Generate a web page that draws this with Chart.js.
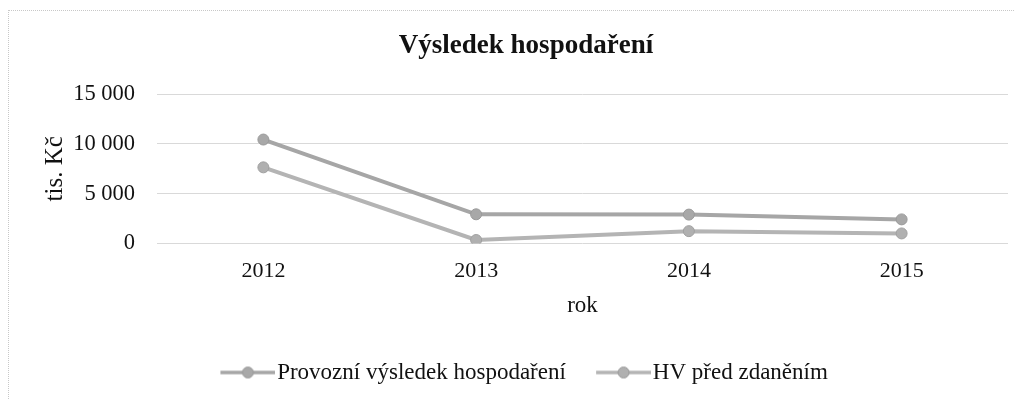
<!DOCTYPE html>
<html>
<head>
<meta charset="utf-8">
<script src="https://cdn.jsdelivr.net/npm/chart.js@4"></script>
<style>
  html, body { margin: 0; padding: 0; background: #fff; }
  #wrap { position: relative; width: 1033px; height: 400px; }
  #frame { position: absolute; left: 8px; top: 10px; width: 1005px; height: 400px;
           border-left: 1px dotted #c8c8c8; border-top: 1px dotted #c8c8c8; }
  canvas { position: absolute; left: 0; top: 0; }
</style>
</head>
<body>
<div id="wrap">
  <div id="frame"></div>
  <canvas id="c" width="1033" height="400"></canvas>
</div>
<script>
const categories = ['2012', '2013', '2014', '2015'];
const provozniVH = [10430, 2930, 2900, 2420];
const hvPredZdanenim = [7640, 350, 1240, 1010];
const yTicks = [0, 5000, 10000, 15000];
const seriesNames = ['Provozní výsledek hospodaření', 'HV před zdaněním'];

function legendIcon(color, fill) {
  const cv = document.createElement('canvas');
  cv.width = 65; cv.height = 14;
  const g = cv.getContext('2d');
  g.strokeStyle = color; g.lineWidth = 3.5;
  g.beginPath(); g.moveTo(10, 7); g.lineTo(65, 7); g.stroke();
  g.fillStyle = fill; g.strokeStyle = '#9a9a9a'; g.lineWidth = 1;
  g.beginPath(); g.arc(37.5, 7, 5.5, 0, Math.PI * 2); g.fill(); g.stroke();
  return cv;
}

const serif = "'Liberation Serif', 'Times New Roman', serif";
const fmt = v => String(Math.round(v)).replace(/\B(?=(\d{3})+(?!\d))/g, '\u00a0');

const boxShift = {
  id: 'boxShift',
  afterLayout(chart) {
    chart.legend.left += 20; chart.legend.right += 20;
    if (chart.titleBlock) { chart.titleBlock.left += 22; chart.titleBlock.right += 22; }
  }
};

new Chart(document.getElementById('c'), {
  type: 'line',
  data: {
    labels: categories,
    datasets: [
      { label: seriesNames[0], data: provozniVH, borderColor: '#a6a6a6', borderWidth: 4,
        pointRadius: 5.5, pointBackgroundColor: '#a8a8a8', pointBorderColor: '#9a9a9a', pointBorderWidth: 1,
        pointStyle: 'circle', tension: 0 },
      { label: seriesNames[1], data: hvPredZdanenim, borderColor: '#b4b4b4', borderWidth: 4,
        pointRadius: 5.5, pointBackgroundColor: '#b0b0b0', pointBorderColor: '#a0a0a0', pointBorderWidth: 1,
        pointStyle: 'circle', tension: 0 }
    ]
  },
  plugins: [boxShift],
  options: {
    responsive: false,
    animation: false,
    devicePixelRatio: 1,
    layout: { padding: { left: 0, right: 25, top: 0, bottom: 6 } },
    plugins: {
      tooltip: { enabled: false },
      title: {
        display: true, text: 'Výsledek hospodaření', color: '#111',
        font: { family: serif, size: 27, weight: 'bold', lineHeight: 1.2 },
        padding: { top: 30, bottom: 31.6 }
      },
      legend: {
        position: 'bottom',
        labels: {
          usePointStyle: true, pointStyleWidth: 45.5, boxHeight: 14,
          color: '#111', font: { family: serif, size: 23 }, padding: 30,
          generateLabels: chart => chart.data.datasets.map((ds, i) => ({
            text: ds.label, pointStyle: legendIcon(ds.borderColor, ds.pointBackgroundColor),
            fillStyle: ds.borderColor, strokeStyle: ds.borderColor, lineWidth: 0,
            datasetIndex: i, fontColor: '#111'
          }))
        }
      }
    },
    scales: {
      x: {
        offset: true,
        grid: { display: false, drawTicks: false, offset: true },
        border: { display: false },
        ticks: { color: '#111', font: { family: serif, size: 22 }, padding: 15 },
        title: { display: true, text: 'rok', color: '#111',
                 font: { family: serif, size: 23, lineHeight: 1.2 }, padding: { top: 0, bottom: 11.7 } },
        afterFit: s => { s.height = 87.5; }
      },
      y: {
        min: 0, max: 15000,
        afterBuildTicks: s => { s.ticks = yTicks.map(v => ({ value: v })); },
        grid: { color: '#d9d9d9', lineWidth: 1, drawTicks: false },
        border: { display: false },
        ticks: { color: '#111', font: { family: serif, size: 22.5 }, padding: 22, callback: v => fmt(v) },
        title: { display: true, text: 'tis. Kč', color: '#111',
                 font: { family: serif, size: 25, lineHeight: 1.2 }, padding: { top: 40, bottom: 0 } },
        afterFit: s => { s.width = 157; }
      }
    }
  }
});
</script>
</body>
</html>
